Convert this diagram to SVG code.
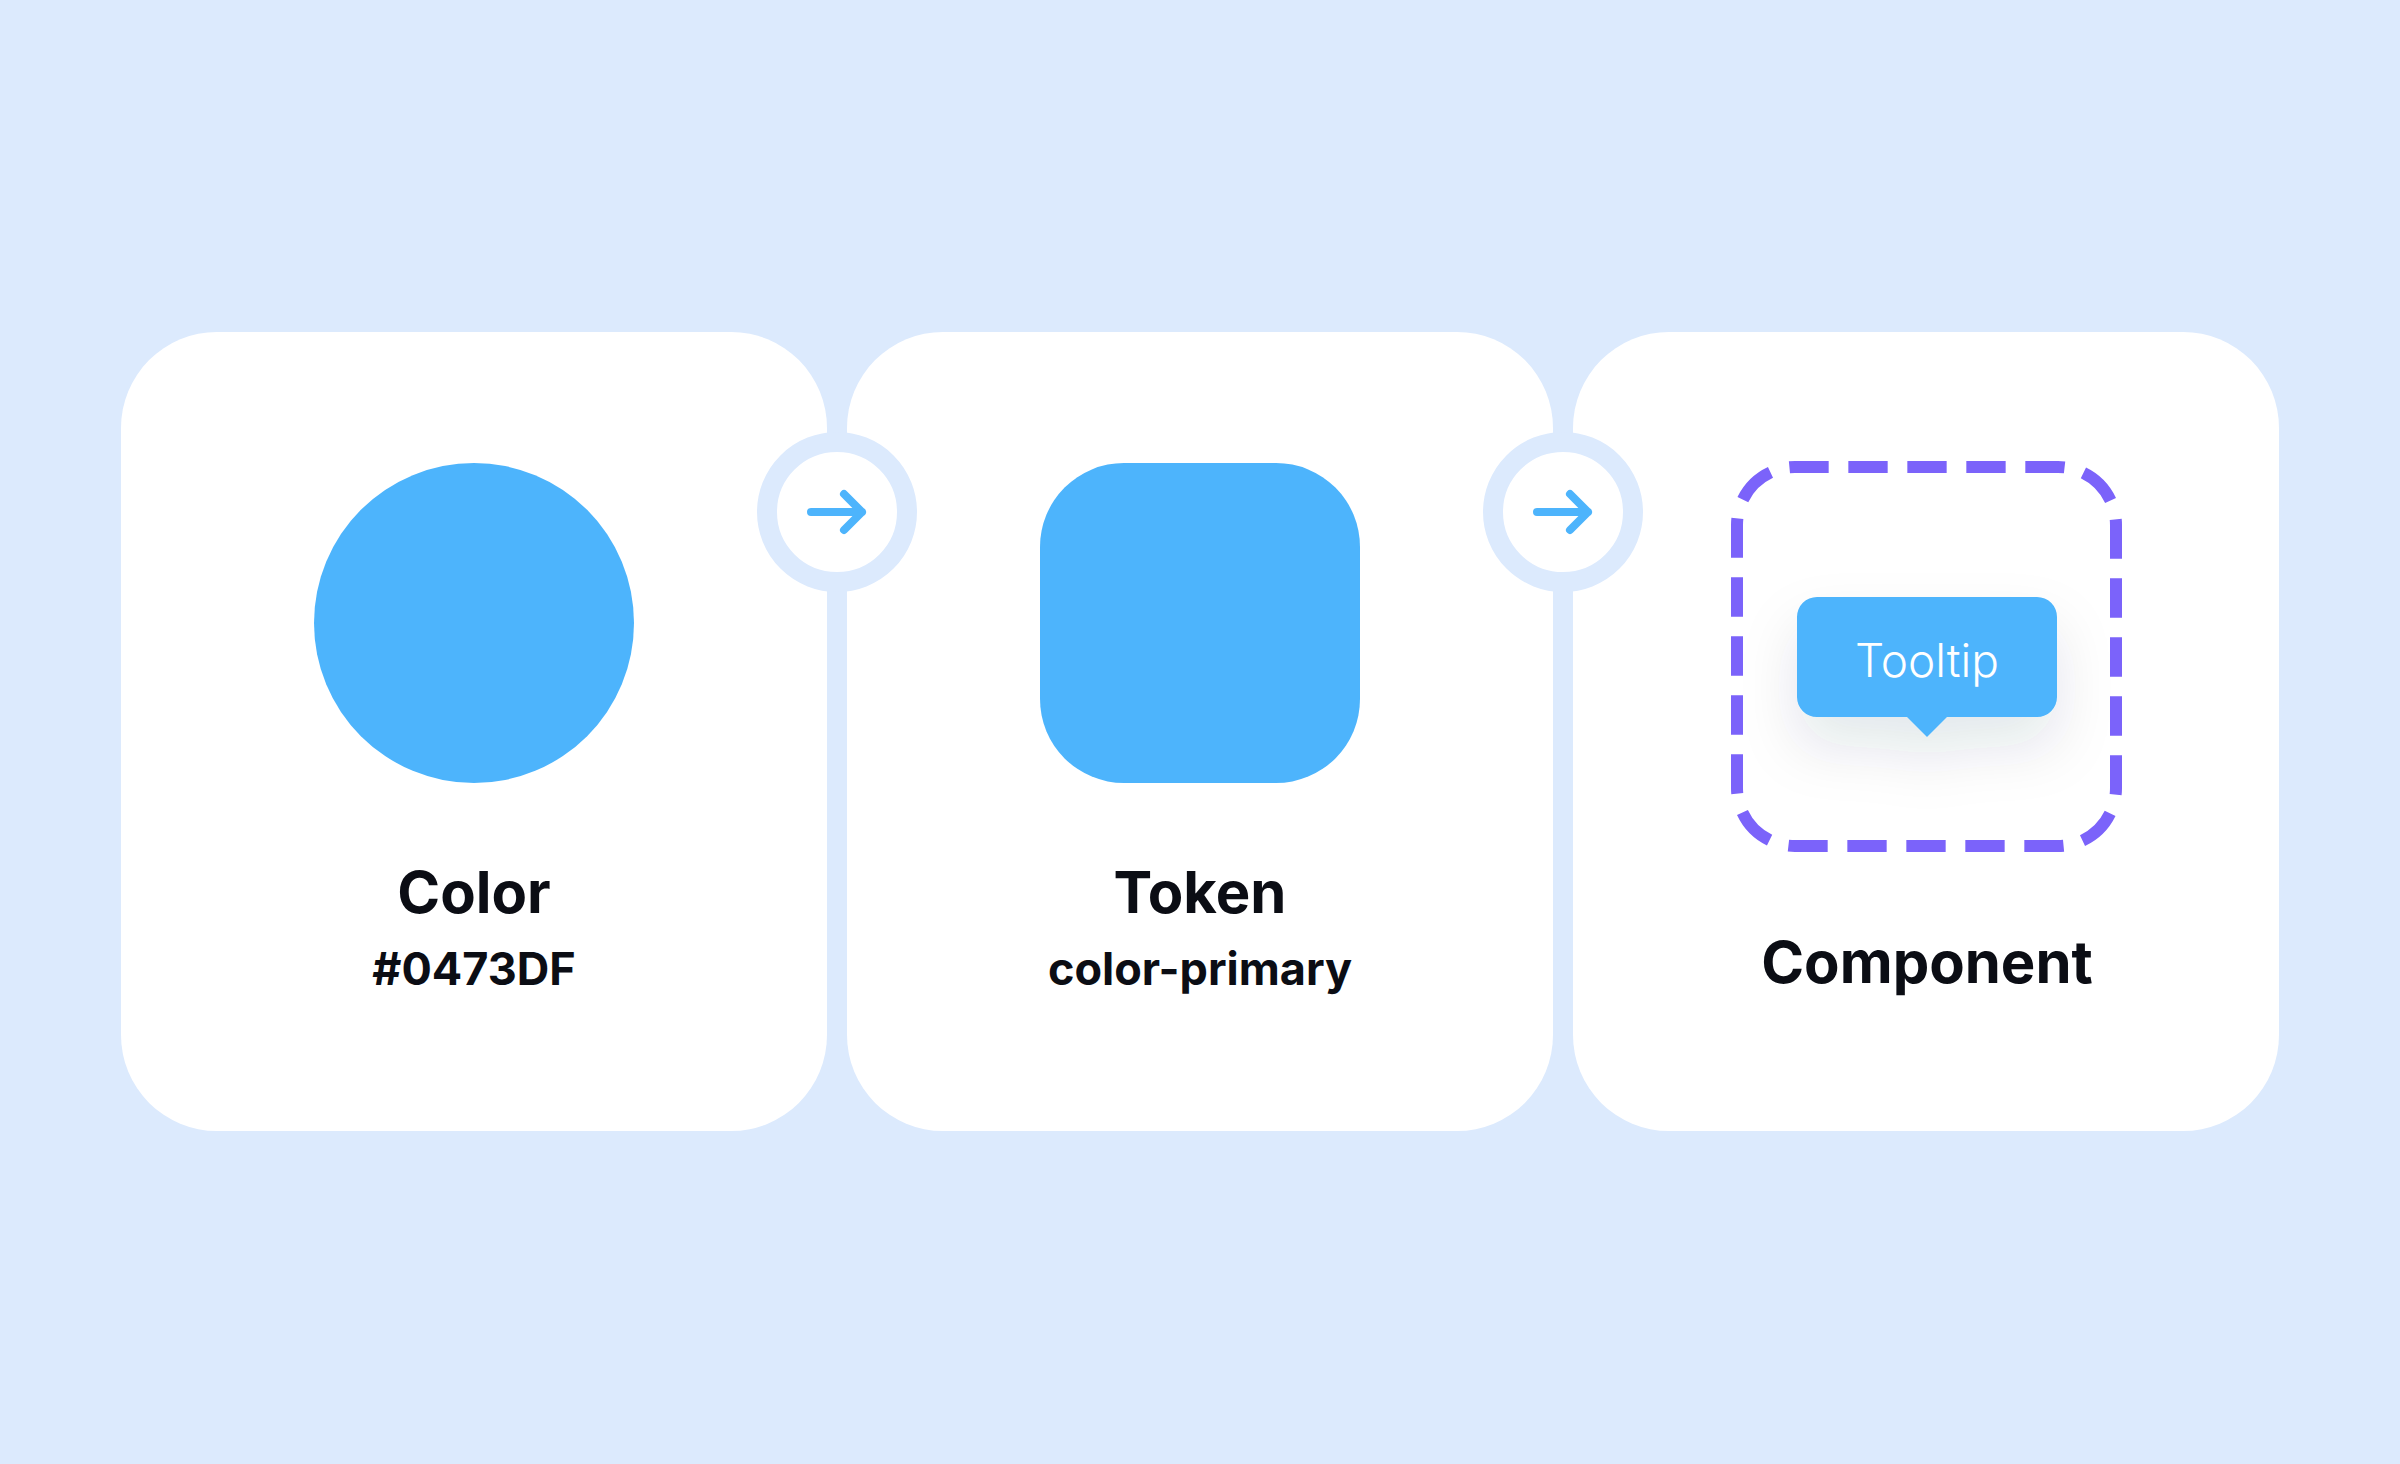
<svg xmlns="http://www.w3.org/2000/svg" width="2400" height="1464" viewBox="0 0 2400 1464">
  <style>
    .card { fill: #FFFFFF; }
    .swatch { fill: #4DB4FC; }
    .title { font-family: Inter, "Liberation Sans", sans-serif; font-weight: 700; font-size: 58px; fill: #0B0D14; text-anchor: middle; }
    .sub { font-family: Inter, "Liberation Sans", sans-serif; font-weight: 700; font-size: 45px; fill: #0B0D14; text-anchor: middle; }
    .tip { font-family: Inter, "Liberation Sans", sans-serif; font-weight: 300; font-size: 46px; fill: #FFFFFF; text-anchor: middle; }
    .ring { fill: #FFFFFF; stroke: #DCEAFD; stroke-width: 20; }
    .arrow { fill: none; stroke: #4DB4FC; stroke-width: 8; stroke-linecap: round; stroke-linejoin: round; }
    .dash { fill: none; stroke: #7B63FA; stroke-width: 12; stroke-dasharray: 40 20; stroke-dashoffset: 20; }
  </style>
  <defs>
    <filter id="shadow" x="-60%" y="-60%" width="220%" height="300%">
      <feDropShadow dx="0" dy="30" stdDeviation="28" flood-color="#1E2A50" flood-opacity="0.11"/>
    </filter>
  </defs>
  <rect x="0" y="0" width="2400" height="1464" fill="#DCEAFD"/>

  <g id="node-color">
    <rect class="card" x="121" y="332" width="706" height="799" rx="96"/>
    <circle class="swatch" cx="474" cy="623" r="160"/>
    <text class="title" x="474" y="913">Color</text>
    <text class="sub" x="474" y="985">#0473DF</text>
  </g>

  <g id="node-token">
    <rect class="card" x="847" y="332" width="706" height="799" rx="96"/>
    <rect class="swatch" x="1040" y="463" width="320" height="320" rx="84"/>
    <text class="title" x="1200" y="913">Token</text>
    <text class="sub" x="1200" y="985">color-primary</text>
  </g>

  <g id="node-component">
    <rect class="card" x="1573" y="332" width="706" height="799" rx="96"/>
    <path class="dash" pathLength="1440" d="M1927,467 H2058 A58,58 0 0 1 2116,525 V788 A58,58 0 0 1 2058,846 H1795 A58,58 0 0 1 1737,788 V525 A58,58 0 0 1 1795,467 Z"/>
    <g id="tooltip" filter="url(#shadow)">
      <path class="swatch" d="M1817,597 H2037 A20,20 0 0 1 2057,617 V697 A20,20 0 0 1 2037,717 H1947 L1927,737 L1907,717 H1817 A20,20 0 0 1 1797,697 V617 A20,20 0 0 1 1817,597 Z"/>
    </g>
    <text class="tip" x="1927" y="677">Tooltip</text>
    <text class="title" x="1927" y="983">Component</text>
  </g>

  <g id="connectors">
    <g id="connector-1">
      <circle class="ring" cx="837" cy="512" r="70"/>
      <path class="arrow" d="M811,512 H862 M844,494 L862,512 L844,530"/>
    </g>
    <g id="connector-2">
      <circle class="ring" cx="1563" cy="512" r="70"/>
      <path class="arrow" d="M1537,512 H1588 M1570,494 L1588,512 L1570,530"/>
    </g>
  </g>
</svg>
